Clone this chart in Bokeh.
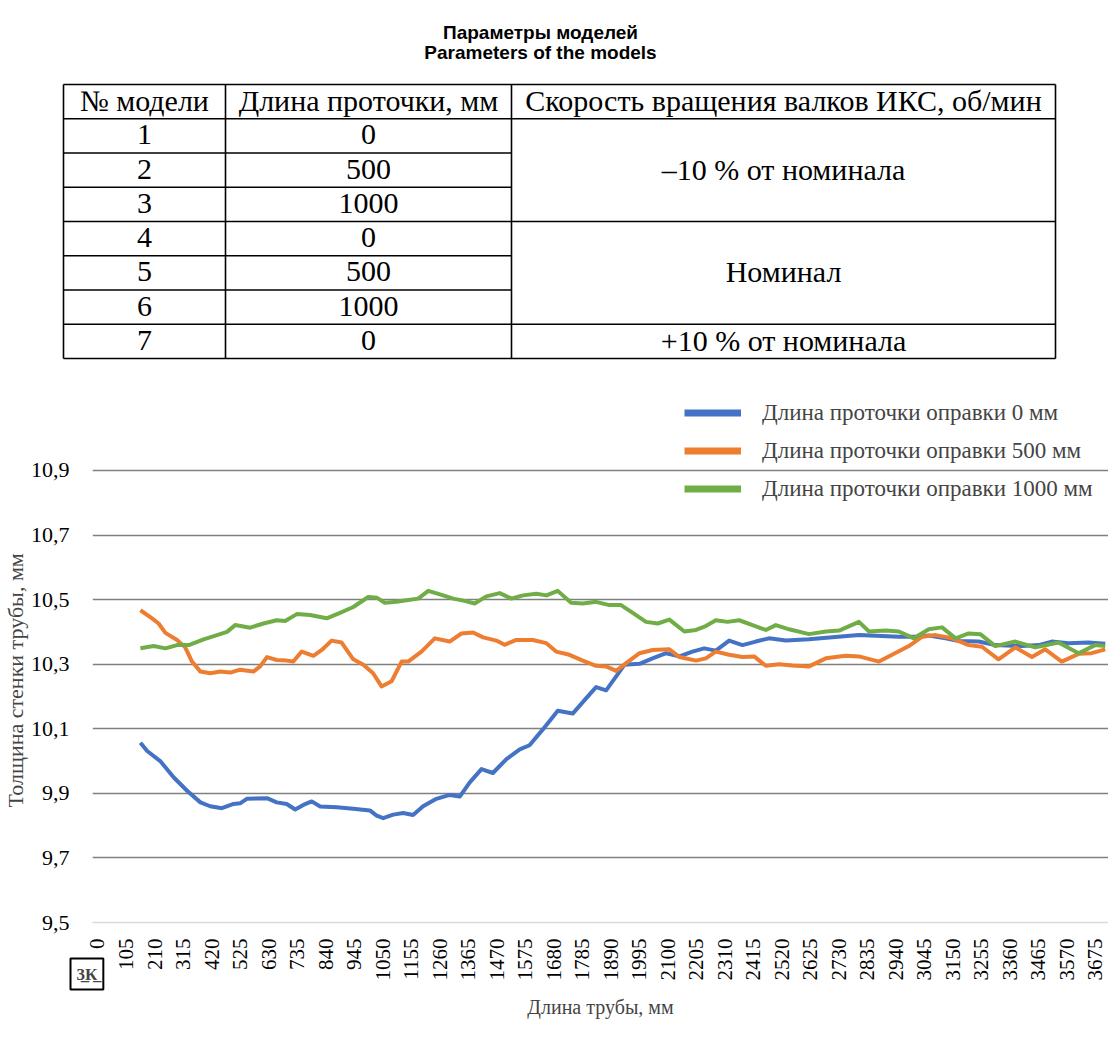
import math
from bokeh.plotting import figure
from bokeh.models import (Range1d, FixedTicker, CustomJSTickFormatter, Legend,
                          LegendItem, Title)
from bokeh.core.properties import value
from bokeh.embed import file_html
from bokeh.resources import INLINE

# ---------------- data ----------------
title_lines = ["Параметры моделей", "Parameters of the models"]
table_header = ["№ модели", "Длина проточки, мм", "Скорость вращения валков ИКС, об/мин"]
model_no = ["1", "2", "3", "4", "5", "6", "7"]
groove_len = ["0", "500", "1000", "0", "500", "1000", "0"]
speed_groups = ["–10 % от номинала", "Номинал", "+10 % от номинала"]
speed_rows = [(0, 3), (3, 6), (6, 7)]

series_labels = ["Длина проточки оправки 0 мм",
                 "Длина проточки оправки 500 мм",
                 "Длина проточки оправки 1000 мм"]

x_0mm = [158, 183, 231, 281, 330, 379, 415, 458, 501, 525, 550, 624, 660, 697, 728,
         758, 789, 820, 881, 942, 1003, 1028, 1052, 1089, 1126, 1162, 1199, 1248,
         1297, 1334, 1371, 1414, 1456, 1506, 1555, 1591, 1640, 1695, 1750, 1800,
         1836, 1873, 1910, 1940, 1996, 2044, 2094, 2143, 2191, 2234, 2277, 2326,
         2375, 2424, 2473, 2535, 2620, 2706, 2804, 2865, 2951, 3025, 3061, 3123,
         3172, 3245, 3306, 3404, 3466, 3514, 3576, 3649, 3711]
y_0mm = [10.057, 10.031, 10.000, 9.949, 9.908, 9.872, 9.860, 9.854, 9.867, 9.869,
         9.883, 9.885, 9.872, 9.867, 9.850, 9.864, 9.875, 9.859, 9.857, 9.852,
         9.847, 9.831, 9.823, 9.834, 9.839, 9.833, 9.860, 9.883, 9.895, 9.890,
         9.934, 9.975, 9.963, 10.006, 10.036, 10.049, 10.098, 10.156, 10.147,
         10.195, 10.229, 10.219, 10.262, 10.298, 10.301, 10.318, 10.334, 10.324,
         10.339, 10.349, 10.342, 10.373, 10.359, 10.370, 10.380, 10.373, 10.377,
         10.383, 10.390, 10.388, 10.385, 10.385, 10.389, 10.380, 10.372, 10.370,
         10.359, 10.356, 10.359, 10.370, 10.365, 10.367, 10.363]

x_500mm = [158, 201, 225, 250, 293, 323, 348, 379, 415, 452, 489, 525, 574, 599, 624,
           660, 697, 721, 752, 795, 826, 862, 899, 942, 979, 1015, 1046, 1083, 1120,
           1144, 1193, 1242, 1297, 1340, 1383, 1420, 1469, 1499, 1542, 1603, 1653,
           1689, 1738, 1787, 1836, 1873, 1910, 1947, 1996, 2044, 2106, 2143, 2204,
           2240, 2277, 2326, 2375, 2418, 2461, 2510, 2559, 2620, 2682, 2755, 2804,
           2878, 2926, 2988, 3037, 3086, 3147, 3208, 3257, 3318, 3380, 3441, 3490,
           3551, 3613, 3661, 3711]
y_500mm = [10.467, 10.442, 10.426, 10.397, 10.375, 10.352, 10.308, 10.277, 10.272,
           10.277, 10.274, 10.283, 10.277, 10.293, 10.322, 10.313, 10.311, 10.308,
           10.339, 10.326, 10.344, 10.373, 10.367, 10.315, 10.298, 10.272, 10.231,
           10.247, 10.308, 10.308, 10.339, 10.380, 10.370, 10.395, 10.398, 10.383,
           10.373, 10.360, 10.375, 10.375, 10.365, 10.339, 10.329, 10.311, 10.295,
           10.293, 10.279, 10.303, 10.334, 10.344, 10.346, 10.322, 10.311, 10.318,
           10.339, 10.329, 10.322, 10.324, 10.295, 10.300, 10.296, 10.293, 10.318,
           10.326, 10.324, 10.308, 10.329, 10.356, 10.385, 10.390, 10.380, 10.359,
           10.354, 10.315, 10.352, 10.322, 10.346, 10.308, 10.332, 10.334, 10.346]

x_1000mm = [158, 207, 250, 293, 336, 391, 440, 477, 507, 562, 611, 660, 691, 734, 783,
            844, 893, 942, 997, 1028, 1058, 1101, 1138, 1181, 1218, 1261, 1310, 1352,
            1389, 1432, 1481, 1524, 1567, 1616, 1653, 1695, 1744, 1787, 1836, 1885,
            1928, 1971, 2020, 2063, 2106, 2161, 2204, 2240, 2277, 2320, 2363, 2412,
            2461, 2498, 2547, 2620, 2682, 2731, 2804, 2841, 2902, 2951, 3006, 3061,
            3110, 3160, 3208, 3251, 3306, 3380, 3453, 3539, 3613, 3674, 3711]
y_1000mm = [10.349, 10.356, 10.349, 10.359, 10.359, 10.377, 10.390, 10.400, 10.421,
            10.413, 10.426, 10.436, 10.434, 10.455, 10.452, 10.442, 10.459, 10.477,
            10.508, 10.506, 10.490, 10.493, 10.498, 10.503, 10.527, 10.516, 10.503,
            10.496, 10.488, 10.510, 10.520, 10.503, 10.513, 10.518, 10.513, 10.527,
            10.490, 10.488, 10.493, 10.483, 10.483, 10.459, 10.431, 10.426, 10.438,
            10.401, 10.406, 10.418, 10.436, 10.431, 10.436, 10.421, 10.406, 10.421,
            10.408, 10.393, 10.401, 10.404, 10.431, 10.401, 10.404, 10.401, 10.380,
            10.408, 10.414, 10.380, 10.395, 10.393, 10.356, 10.370, 10.352, 10.367,
            10.334, 10.359, 10.356]

x_ticks = list(range(0, 3676, 105))
y_ticks = [9.5, 9.7, 9.9, 10.1, 10.3, 10.5, 10.7, 10.9]
grid_ticks = [9.7, 9.9, 10.1, 10.3, 10.5, 10.7, 10.9]
badge_text = "3\u0332К\u0332"
x_label = "Длина трубы, мм"
y_label = "Толщина стенки трубы, мм"

colors = ["#4472C4", "#ED7D31", "#70AD47"]
SERIF = "Liberation Serif"
SANS = "Liberation Sans"

# ---------------- top: title + table ----------------
W = 1108
TOP_H = 367
t = figure(width=W, height=TOP_H, x_range=Range1d(0, W), y_range=Range1d(TOP_H, 0),
           output_backend="svg", toolbar_location=None, min_border=0,
           x_axis_location=None, y_axis_location=None)
t.grid.visible = False
t.outline_line_color = None

t.text(x=[540, 540], y=[32, 52], text=title_lines, text_font=value(SANS),
       text_font_style="bold", text_font_size="19px", text_align="center",
       text_baseline="middle", text_color="black")

col_x = [63, 225, 511, 1055]
tbl_top = 84
row_h = 34.25
row_y = [tbl_top + i * row_h for i in range(9)]
full_lines = {0, 1, 4, 7, 8}
hx0, hy0, hx1, hy1 = [], [], [], []
for i, yy in enumerate(row_y):
    hx0.append(col_x[0])
    hx1.append(col_x[3] if i in full_lines else col_x[2])
    hy0.append(yy)
    hy1.append(yy)
for xx in col_x:
    hx0.append(xx); hx1.append(xx); hy0.append(row_y[0]); hy1.append(row_y[-1])
t.segment(x0=hx0, y0=hy0, x1=hx1, y1=hy1, line_color="black", line_width=1.6)

cx = [(col_x[i] + col_x[i + 1]) / 2 for i in range(3)]
tx, ty, tt = [], [], []
for j, h in enumerate(table_header):
    tx.append(cx[j]); ty.append(tbl_top + row_h / 2 - 1); tt.append(h)
for r in range(7):
    yy = tbl_top + row_h * (r + 1.5) - 1
    tx += [cx[0], cx[1]]; ty += [yy, yy]; tt += [model_no[r], groove_len[r]]
for g, (a, b) in zip(speed_groups, speed_rows):
    tx.append(cx[2]); ty.append(tbl_top + row_h * (1 + (a + b) / 2) - 1); tt.append(g)
t.text(x=tx, y=ty, text=tt, text_font=value(SERIF), text_font_size="30px",
       text_align="center", text_baseline="middle", text_color="black")

# ---------------- chart ----------------
p = figure(width=W, height=670, x_range=Range1d(-18.4, 3723), y_range=Range1d(9.5, 11.132),
           output_backend="svg", toolbar_location=None,
           min_border_left=92, min_border_right=0, min_border_top=28, min_border_bottom=115)
p.outline_line_color = None
p.xgrid.visible = False
p.ygrid.ticker = FixedTicker(ticks=grid_ticks)
p.ygrid.grid_line_color = "#808080"
p.ygrid.grid_line_width = 1.6

p.yaxis.ticker = FixedTicker(ticks=y_ticks)
p.yaxis.formatter = CustomJSTickFormatter(code="return tick.toFixed(1).replace('.', ',');")
p.yaxis.axis_line_color = None
p.yaxis.major_tick_line_color = None
p.yaxis.minor_tick_line_color = None
p.yaxis.major_label_standoff = 17
p.yaxis.major_label_text_font = SERIF
p.yaxis.major_label_text_font_size = "22px"
p.yaxis.major_label_text_color = "black"

p.xaxis.ticker = FixedTicker(ticks=x_ticks)
p.xaxis.major_label_orientation = math.pi / 2
p.xaxis.axis_line_color = "#d9d9d9"
p.xaxis.axis_line_width = 1.5
p.xaxis.major_tick_line_color = None
p.xaxis.minor_tick_line_color = None
p.xaxis.major_label_standoff = 10
p.xaxis.major_label_text_font = SERIF
p.xaxis.major_label_text_font_size = "21px"
p.xaxis.major_label_text_color = "black"
p.xaxis.axis_label = x_label
p.xaxis.axis_label_text_font = SERIF
p.xaxis.axis_label_text_font_size = "20px"
p.xaxis.axis_label_text_font_style = "normal"
p.xaxis.axis_label_standoff = 12

ytitle = Title(text=y_label, align="left", offset=115, standoff=0,
               text_font=SERIF, text_font_size="22px", text_font_style="normal")
p.add_layout(ytitle, "left")

badge = Title(text=badge_text, align="left", vertical_align="top", offset=-22,
              standoff=-124, text_font=SERIF, text_font_style="bold",
              text_font_size="17px", padding=6, border_line_color="black",
              border_line_width=2, background_fill_color="white")
p.add_layout(badge, "below")

xs_all = [x_0mm, x_500mm, x_1000mm]
ys_all = [y_0mm, y_500mm, y_1000mm]
for xs, ys, c in zip(xs_all, ys_all, colors):
    p.line(xs, ys, line_color=c, line_width=4, line_join="round")

items = []
for lab, c in zip(series_labels, colors):
    r = p.line([-1000, -900], [9.0, 9.0], line_color=c, line_width=7)
    items.append(LegendItem(label=lab, renderers=[r]))
legend = Legend(items=items, location=(592, 420), border_line_color=None,
                background_fill_alpha=0, padding=0, margin=0,
                label_text_font=SERIF, label_text_font_size="23px",
                glyph_width=57, glyph_height=27, label_height=27, spacing=11,
                label_standoff=21)
p.add_layout(legend)

open("out.html", "w").write(file_html([t, p], INLINE))
